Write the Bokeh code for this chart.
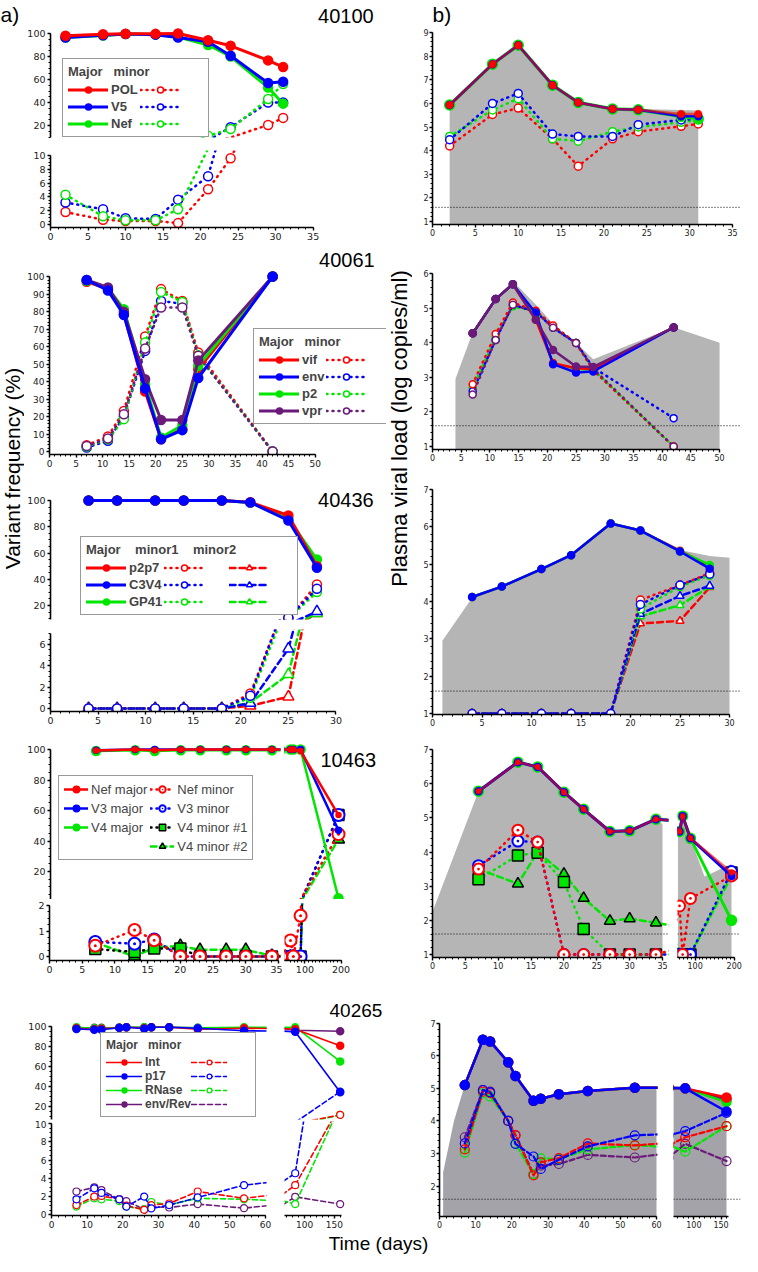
import numpy as np
from bokeh.plotting import figure
from bokeh.models import Range1d, FixedTicker, Span, Legend, LegendItem
from bokeh.layouts import row, column
from bokeh.core.properties import value
from bokeh.embed import file_html
from bokeh.resources import INLINE

# ---------------- DATA ----------------
# 40100
d40100 = [2, 7, 10, 14, 17, 21, 24, 29, 31]
pol_maj = [98, 99.4, 99.7, 99.7, 100, 94.2, 89.3, 76.6, 70.8]
v5_maj = [96.5, 98.5, 99.5, 99, 96.5, 92.8, 80.6, 56.9, 58]
nef_maj = [96.5, 98.2, 99.5, 99.2, 97, 90, 80, 53, 39]
pol_min = [1.8, 0.7, 0.5, 0.5, 0.2, 5.1, 9.6, 20.5, 26.6]
v5_min = [3.2, 2.2, 0.9, 0.8, 3.6, 7.0, 18.5, 40, 40]
nef_min = [4.3, 1.2, 0.6, 0.6, 2.2, 11, 17, 43, 56]
vl40100 = [5.95, 7.68, 8.48, 6.8, 6.06, 5.78, 5.76, 5.72, 5.7]
pol_vl_maj = [5.93, 7.66, 8.46, 6.77, 6.04, 5.76, 5.73, 5.55, 5.55]
v5_vl_maj = [5.93, 7.66, 8.46, 6.77, 6.04, 5.76, 5.73, 5.45, 5.45]
nef_vl_maj = [5.93, 7.66, 8.46, 6.77, 6.04, 5.76, 5.73, 5.45, 5.35]
pol_vl_min = [4.2, 5.53, 5.8, 4.5, 3.34, 4.5, 4.8, 5.03, 5.13]
v5_vl_min = [4.46, 6.0, 6.42, 4.7, 4.6, 4.6, 5.1, 5.3, 5.35]
nef_vl_min = [4.6, 5.72, 6.2, 4.5, 4.4, 4.8, 5.0, 5.2, 5.3]

# 40061
d40061 = [7, 11, 14, 18, 21, 25, 28, 42]
vif_maj = [97, 93, 78.5, 34.3, 7, 12.8, 47, 100]
env_maj = [98, 92, 78, 36, 7, 12.2, 42, 100]
p2_maj = [97.5, 93.3, 81.3, 38.5, 8, 15, 49, 100]
vpr_maj = [98, 93.7, 79.8, 41.3, 18, 18, 52, 100]
vif_min = [3.6, 8.6, 23.2, 65.7, 92.8, 86, 56.6, 0]
env_min = [2.3, 6.1, 20, 57.5, 86, 84.4, 54.7, 0]
p2_min = [2.9, 7, 18.5, 62.3, 91.2, 85.5, 55, 0]
vpr_min = [3.2, 7.4, 21.3, 58.9, 82.3, 82.3, 54.7, 0]
vl40061_days = [4, 7, 11, 14, 18, 21, 25, 28, 42, 50]
vl40061 = [2.95, 4.3, 5.28, 5.78, 5.1, 4.55, 4.0, 3.52, 4.45, 4.0]
vif_vl_maj = [4.27, 5.26, 5.69, 4.66, 3.41, 3.26, 3.24, 4.44]
env_vl_maj = [4.27, 5.26, 5.69, 4.85, 3.38, 3.14, 3.17, 4.44]
p2_vl_maj = [4.27, 5.26, 5.69, 4.75, 3.4, 3.25, 3.22, 4.44]
vpr_vl_maj = [4.27, 5.26, 5.69, 4.66, 3.79, 3.31, 3.3, 4.44]
vif_vl_min = [2.8, 4.25, 5.16, 4.92, 4.5, 3.99, 3.2, 1.0]
env_vl_min = [2.6, 4.08, 5.1, 4.89, 4.43, 3.99, 3.28, 1.82]
p2_vl_min = [2.7, 4.15, 5.05, 4.9, 4.45, 4.0, 3.22, 1.0]
vpr_vl_min = [2.5, 4.08, 5.1, 4.89, 4.43, 3.99, 3.25, 1.0]

# 40436
d40436 = [4, 7, 11, 14, 18, 21, 25, 28]
p2p7_maj = [100, 100, 100, 100, 100, 98.7, 88.6, 50]
c3v4_maj = [100, 100, 100, 100, 100, 98.5, 84.8, 48.7]
gp41_maj = [100, 100, 100, 100, 100, 98.5, 86, 55]
p2p7_min1 = [0, 0, 0, 0, 0, 1.4, 10.5, 36]
c3v4_min1 = [0, 0, 0, 0, 0, 1.2, 10.7, 32.7]
gp41_min1 = [0, 0, 0, 0, 0, 1.0, 10, 30.2]
p2p7_min2 = [0, 0, 0, 0, 0, 0.25, 1.1, 14]
c3v4_min2 = [0, 0, 0, 0, 0, 0.5, 5.6, 15.5]
gp41_min2 = [0, 0, 0, 0, 0, 0.55, 3.2, 14]
vl40436_days = [1, 4, 7, 11, 14, 18, 21, 25, 28, 30]
vl40436 = [2.95, 4.1, 4.42, 4.89, 5.26, 6.1, 5.92, 5.38, 5.22, 5.17]
p2p7_vl_maj = [4.12, 4.4, 4.87, 5.24, 6.09, 5.9, 5.36, 4.95]
c3v4_vl_maj = [4.12, 4.4, 4.87, 5.24, 6.09, 5.9, 5.34, 4.88]
gp41_vl_maj = [4.12, 4.4, 4.87, 5.24, 6.09, 5.9, 5.34, 4.98]
p2p7_vl_min1 = [1, 1, 1, 1, 1, 4.04, 4.44, 4.76]
c3v4_vl_min1 = [1, 1, 1, 1, 1, 3.92, 4.44, 4.73]
gp41_vl_min1 = [1, 1, 1, 1, 1, 3.8, 4.4, 4.7]
p2p7_vl_min2 = [1, 1, 1, 1, 1, 3.41, 3.48, 4.38]
c3v4_vl_min2 = [1, 1, 1, 1, 1, 3.67, 4.15, 4.42]
gp41_vl_min2 = [1, 1, 1, 1, 1, 3.6, 3.9, 4.4]

# 10463
d10463 = [7, 13, 16, 20, 23, 27, 30, 34, 60, 68, 88, 193]
nef_maj4 = [99.3, 100, 99.5, 100, 100, 100, 100, 100, 100, 100, 99, 57]
v3_maj4 = [99.5, 100, 100, 100, 100, 100, 100, 100, 100, 100, 100, 47]
v4_maj4 = [99, 99.5, 99, 99.5, 99.5, 99.5, 99.5, 99.5, 100, 100, 100, 2.5]
nef_min4 = [0.42, 1.04, 0.64, 0, 0, 0, 0, 0, 0.63, 0, 1.6, 44.5]
v3_min4 = [0.57, 0.5, 0.67, 0, 0, 0, 0, 0, 0, 0, 0, 57]
v4_min1_4 = [0.29, 0.18, 0.31, 0.31, 0, 0, 0, 0, 0, 0, 0, 57]
v4_min2_4 = [0.55, 0, 0.35, 0.42, 0.26, 0.26, 0.26, 0.03, 0, 0, 0, 41]
vl10463_days = [0, 7, 13, 16, 20, 23, 27, 30, 34, 35, 56, 60, 68, 88, 124, 193]
vl10463 = [2.25, 5.78, 6.63, 6.49, 5.75, 5.25, 4.6, 4.62, 4.96, 4.82, 4.6, 4.6, 5.05, 4.4, 3.28, 3.65]
nef_vl_maj4 = [5.78, 6.63, 6.49, 5.75, 5.25, 4.6, 4.62, 4.96, 4.6, 5.05, 4.4, 3.4]
v3_vl_maj4 = [5.78, 6.63, 6.49, 5.75, 5.25, 4.6, 4.62, 4.96, 4.6, 5.05, 4.4, 3.3]
v4_vl_maj4 = [5.78, 6.63, 6.49, 5.75, 5.25, 4.6, 4.62, 4.96, 4.6, 5.05, 4.4, 2.0]
nef_vl_min4 = [3.5, 4.64, 4.29, 1.0, 1.0, 1.0, 1.0, 1.0, 2.42, 1.0, 2.64, 3.3]
v3_vl_min4 = [3.6, 4.32, 4.29, 1.0, 1.0, 1.0, 1.0, 1.0, 1.0, 1.0, 1.0, 3.43]
v4_vl_min1_4 = [3.2, 3.9, 3.98, 3.12, 1.75, 1.0, 1.0, 1.0, 1.0, 1.0, 1.0, 3.4]
v4_vl_min2_4 = [3.5, 3.07, 4.0, 3.36, 2.65, 1.98, 2.05, 1.93, 1.0, 1.0, 1.0, 3.3]

# 40265
d40265 = [7, 12, 14, 19, 21, 26, 28, 33, 41, 54, 84, 160]
int_maj = [98, 97, 97.5, 98.5, 99, 98, 99, 99, 97, 98, 97, 80.5]
p17_maj = [97.3, 96.5, 96.5, 98.5, 99, 97.5, 99, 99, 98, 95.5, 94.4, 34.5]
rnase_maj = [99, 98, 98, 98.5, 99, 99, 99, 99, 98.5, 99, 99, 65]
envrev_maj = [98.5, 98.5, 98.5, 98.5, 99, 99, 99, 99, 98.5, 98.5, 96, 95]
int_min = [1.06, 2.0, 2.07, 1.7, 1.0, 0.55, 1.06, 1.24, 2.55, 1.8, 3.25, 12]
p17_min = [1.7, 2.9, 2.4, 1.7, 0.9, 2.0, 0.7, 1.06, 1.9, 3.25, 4.55, 35]
rnase_min = [0.9, 1.8, 1.7, 1.5, 0.9, 0.6, 1.4, 1.1, 1.8, 1.7, 1.17, 12]
envrev_min = [2.55, 3.0, 2.7, 1.7, 1.5, 0.6, 0.9, 0.8, 1.17, 0.73, 1.97, 1.17]
vl40265_days = [1, 4, 7, 12, 14, 19, 21, 26, 28, 33, 41, 54, 60, 62, 84, 160]
vl40265 = [2.42, 4.0, 5.1, 6.49, 6.44, 5.8, 5.38, 4.62, 4.68, 4.82, 4.92, 5.02, 5.02, 5.02, 5.0, 4.72]
int_vl_maj = [5.1, 6.49, 6.44, 5.8, 5.38, 4.62, 4.68, 4.82, 4.92, 5.02, 5.0, 4.72]
p17_vl_maj = [5.1, 6.49, 6.44, 5.8, 5.38, 4.62, 4.68, 4.82, 4.92, 5.02, 5.0, 4.29]
rnase_vl_maj = [5.1, 6.49, 6.44, 5.8, 5.38, 4.62, 4.68, 4.82, 4.92, 5.02, 5.0, 4.58]
envrev_vl_maj = [5.1, 6.49, 6.44, 5.8, 5.38, 4.62, 4.68, 4.82, 4.92, 5.02, 5.0, 4.66]
int_vl_min = [3.13, 4.9, 4.85, 4.0, 3.57, 2.33, 2.73, 2.86, 3.31, 3.25, 3.5, 3.84]
p17_vl_min = [3.31, 4.95, 4.88, 4.0, 3.3, 2.91, 2.53, 2.81, 3.22, 3.56, 3.69, 4.25]
rnase_vl_min = [3.03, 4.85, 4.75, 4.0, 3.3, 2.37, 2.85, 2.83, 3.13, 3.26, 3.06, 3.84]
envrev_vl_min = [3.5, 4.95, 4.9, 4.0, 3.56, 2.37, 2.63, 2.68, 2.96, 2.88, 3.3, 2.77]

detection_limit = 1.6

# ---------------- STYLE ----------------
RED = "#ff0000"
BLUE = "#0000ff"
GREEN = "#00e600"
PURPLE = "#6b1a7a"
GRAY = "#b5b5b5"
GRAY5 = "#a3a3a9"
TICKFONT = "DejaVu Sans"
BIGFONT = "Liberation Sans"
LEGFONT = "Liberation Sans"
DOT = "1 5"
DASH = "6 4"
INF = float("inf")
LX = 32  # left edge of the left column


def lin(m, px):
    pa, va, pb, vb = m
    return va + (px - pa) * (vb - va) / (pb - pa)


def mk(canvas, frame, xmap, ymap, xaxis=True, yaxis=True, fs="10px", tick_out=4, standoff=2):
    cx0, cy0, cx1, cy1 = canvas
    fx0, fy0, fx1, fy1 = frame
    p = figure(width=int(cx1 - cx0), height=int(cy1 - cy0),
               x_range=Range1d(lin(xmap, fx0), lin(xmap, fx1)),
               y_range=Range1d(lin(ymap, fy1), lin(ymap, fy0)),
               min_border_left=int(round(fx0 - cx0)), min_border_right=int(round(cx1 - fx1)),
               min_border_top=int(round(fy0 - cy0)), min_border_bottom=int(round(cy1 - fy1)),
               x_axis_location="below" if xaxis else None,
               y_axis_location="left" if yaxis else None,
               output_backend="svg", toolbar_location=None)
    p.outline_line_color = None
    p.background_fill_color = "white"
    p.border_fill_color = "white"
    for g in p.grid:
        g.visible = False
    for ax in p.axis:
        ax.axis_line_width = 1.6
        ax.axis_line_color = "black"
        ax.major_tick_line_width = 1.4
        ax.major_tick_out = tick_out
        ax.major_tick_in = 0
        ax.minor_tick_line_width = 1
        ax.minor_tick_out = 2
        ax.minor_tick_in = 0
        ax.major_label_text_font = TICKFONT
        ax.major_label_text_font_size = fs
        ax.major_label_text_color = "#222222"
        ax.major_label_standoff = standoff
    return p


def ticks(axes, major, minor):
    for ax in axes:
        ax.ticker = FixedTicker(ticks=list(major), minor_ticks=list(minor))


def ar(a, b, s):
    return [float(v) for v in np.arange(a, b + s / 2, s)]


def ser(p, x, y, color, lw=2.5, dash="solid", marker="circle", size=8, fill=None,
        mline=None, mlw=1.5, alpha=1.0, fill_alpha=1.0, lo=-INF, hi=INF):
    l = p.line(x, y, line_color=color, line_width=lw, line_dash=dash, line_alpha=alpha,
               line_cap="round", line_join="round")
    out = [l]
    if marker:
        mx = [a for a, b in zip(x, y) if lo <= b <= hi]
        my = [b for b in y if lo <= b <= hi]
        m = p.scatter(mx, my, marker=marker, size=size, fill_color=(fill or color), fill_alpha=fill_alpha,
                      line_color=(mline or color), line_width=mlw, line_alpha=alpha)
        out.append(m)
    return out


def txt(p, x, y, s, size="20px", angle=0.0, align="left", font=BIGFONT):
    p.text(x=[x], y=[y], text=[s], angle=angle, text_font=value(font), text_font_size=size,
           text_align=align, text_baseline="middle", text_color="black")


def legend(p, items, ncols, title, loc, fs="12px", bold=True, gw=40, lh=15, spacing=2):
    lg = Legend(items=[LegendItem(label=l, renderers=r) for l, r in items],
                location=loc, ncols=ncols, orientation="vertical")
    if title:
        lg.title = title
    lg.label_text_font = LEGFONT
    lg.label_text_font_style = "bold" if bold else "normal"
    lg.label_text_font_size = fs
    lg.title_text_font = LEGFONT
    lg.title_text_font_style = "bold"
    lg.title_text_font_size = fs
    lg.glyph_width = gw
    lg.glyph_height = lh
    lg.label_height = lh
    lg.label_standoff = 3
    lg.spacing = spacing
    lg.padding = 5
    lg.margin = 0
    lg.title_standoff = 3
    lg.border_line_color = "#333333"
    lg.border_line_width = 1.5
    lg.background_fill_color = "white"
    lg.background_fill_alpha = 1.0
    p.add_layout(lg)


def gray_area(p, days, vals, color, lo, hi):
    xs = [d for d in days if lo <= d <= hi]
    ys = [v for d, v in zip(days, vals) if lo <= d <= hi]
    p.varea(x=xs, y1=p.y_range.start, y2=ys, fill_color=color, fill_alpha=1.0)


def dl(p):
    p.add_layout(Span(location=detection_limit, dimension="width", line_color="black",
                      line_dash="1 2", line_width=1))


# ---------------- ROW 1 : 40100 ----------------
L1x = (55, 0, 320, 35)
L1t = mk((LX, 8, 394, 150), (55, 8, 394, 145), L1x, (41, 100, 133, 20), xaxis=False, fs="9.5px", tick_out=3)
L1b = mk((LX, 150, 394, 250), (55, 158, 394, 235), L1x, (163, 10, 232, 0), fs="9.5px", tick_out=3)
leg1 = {}
for p, lo, hi in ((L1t, 10, INF), (L1b, -INF, 10)):
    rmin = [ser(p, d40100, s, c, lw=2.5, dash=DOT, size=9, fill="white", lo=lo, hi=hi)
            for s, c in ((pol_min, RED), (v5_min, BLUE), (nef_min, GREEN))]
    rmaj = [ser(p, d40100, s, c, lw=3, size=9, lo=lo, hi=hi)
            for s, c in ((nef_maj, GREEN), (v5_maj, BLUE), (pol_maj, RED))]
    if p is L1t:
        leg1 = (rmaj, rmin)
ticks(L1t.yaxis, [20, 40, 60, 80, 100], ar(10, 100, 5))
L1t.yaxis.bounds = (L1t.y_range.start, 100)
ticks(L1b.yaxis, [0, 2, 4, 6, 8, 10], ar(0, 10, 0.5))
L1b.yaxis.bounds = (L1b.y_range.start, 10)
ticks(L1b.xaxis, ar(0, 35, 5), ar(0, 35, 1))
L1b.xaxis.bounds = (0, 35)
rmaj, rmin = leg1
legend(L1t, [("POL", rmaj[2]), ("V5", rmaj[1]), ("Nef", rmaj[0]),
             (" ", rmin[0]), (" ", rmin[1]), (" ", rmin[2])], 2, "Major   minor", (12, 0), fs="13px")
txt(L1t, lin(L1x, 325), lin((41, 100, 133, 20), 23), "40100")

R1x = (438, 0, 740, 35)
R1y = (40, 9, 229, 1)
R1 = mk((420, 8, 750, 250), (438, 8, 748, 232), R1x, R1y, fs="8px", tick_out=3, standoff=1)
gray_area(R1, d40100, vl40100, GRAY, 0, 100)
dl(R1)
ser(R1, d40100, pol_vl_min, RED, lw=2.5, dash=DOT, size=8, fill="white")
ser(R1, d40100, nef_vl_min, GREEN, lw=2.5, dash=DOT, size=8, fill="white")
ser(R1, d40100, v5_vl_min, BLUE, lw=2.5, dash=DOT, size=8, fill="white")
ser(R1, d40100, nef_vl_maj, GREEN, lw=3.5, size=10)
ser(R1, d40100, v5_vl_maj, BLUE, lw=2.5, size=7)
ser(R1, d40100, pol_vl_maj, RED, lw=2.5, size=7, alpha=0.6)
ticks(R1.yaxis, ar(1, 9, 1), ar(1, 9, 0.2))
R1.yaxis.bounds = (R1.y_range.start, 9)
ticks(R1.xaxis, ar(0, 35, 5), ar(0, 35, 1))
R1.xaxis.bounds = (0, 35)
txt(R1, 0.0, lin(R1y, 22), "b)", size="21px")

# ---------------- ROW 2 : 40061 ----------------
L2x = (54, 0, 322, 50)
L2y = (284, 100, 459, 0)
L2 = mk((LX, 250, 394, 480), (54, 252, 394, 462), L2x, L2y, fs="9px", tick_out=3)
r2min = [ser(L2, d40061, s, c, lw=2.5, dash=DOT, size=9, fill="white")
         for s, c in ((vif_min, RED), (env_min, BLUE), (p2_min, GREEN), (vpr_min, PURPLE))]
r2maj = [ser(L2, d40061, s, c, lw=3, size=9)
         for s, c in ((vif_maj, RED), (p2_maj, GREEN), (vpr_maj, PURPLE), (env_maj, BLUE))]
ticks(L2.yaxis, ar(0, 100, 10), ar(0, 100, 2))
L2.yaxis.bounds = (L2.y_range.start, 100)
ticks(L2.xaxis, ar(0, 50, 5), ar(0, 50, 1))
L2.xaxis.bounds = (0, 50)
legend(L2, [("vif", r2maj[0]), ("env", r2maj[3]), ("p2", r2maj[1]), ("vpr", r2maj[2]),
            (" ", r2min[0]), (" ", r2min[1]), (" ", r2min[2]), (" ", r2min[3])],
       2, "Major   minor", (204, 30), fs="13px")
txt(L2, lin(L2x, 326), lin(L2y, 267), "40061")

R2x = (439, 0, 727, 50)
R2 = mk((420, 250, 750, 480), (439, 252, 748, 457), R2x, (281, 6, 454, 1), fs="8px", tick_out=3, standoff=1)
gray_area(R2, vl40061_days, vl40061, GRAY, 0, 100)
dl(R2)
for s, c in ((p2_vl_min, GREEN), (env_vl_min, BLUE), (vif_vl_min, RED), (vpr_vl_min, PURPLE)):
    ser(R2, d40061, s, c, lw=2.5, dash=DOT, size=7, fill="white")
for s, c in ((p2_vl_maj, GREEN), (vif_vl_maj, RED), (env_vl_maj, BLUE), (vpr_vl_maj, PURPLE)):
    ser(R2, d40061, s, c, lw=2.5, size=7)
ticks(R2.yaxis, ar(1, 6, 1), ar(1, 6, 0.2))
R2.yaxis.bounds = (R2.y_range.start, 6)
ticks(R2.xaxis, ar(0, 50, 5), ar(0, 50, 1))
R2.xaxis.bounds = (0, 50)

# ---------------- ROW 3 : 40436 ----------------
L3x = (55, 0, 343, 30)
L3ty = (508, 100, 613, 20)
L3t = mk((LX, 480, 394, 630), (55, 482, 394, 627), L3x, L3ty, xaxis=False, fs="9.5px", tick_out=3)
L3b = mk((LX, 630, 394, 737), (55, 637, 394, 719), L3x, (652, 6, 716, 0), fs="9.5px", tick_out=3)
leg3 = None
for p, lo, hi in ((L3t, 9.5, INF), (L3b, -INF, 7.2)):
    m2 = [ser(p, d40436, s, c, lw=2.5, dash=DASH, marker="triangle", size=11, fill="white", lo=lo, hi=hi)
          for s, c in ((p2p7_min2, RED), (gp41_min2, GREEN), (c3v4_min2, BLUE))]
    m1 = [ser(p, d40436, s, c, lw=2.5, dash=DOT, size=9, fill="white", lo=lo, hi=hi)
          for s, c in ((gp41_min1, GREEN), (p2p7_min1, RED), (c3v4_min1, BLUE))]
    mj = [ser(p, d40436, s, c, lw=3, size=9, lo=lo, hi=hi)
          for s, c in ((gp41_maj, GREEN), (p2p7_maj, RED), (c3v4_maj, BLUE))]
    if p is L3t:
        leg3 = (mj, m1, m2)
ticks(L3t.yaxis, [20, 40, 60, 80, 100], ar(10, 100, 5))
L3t.yaxis.bounds = (L3t.y_range.start, 100)
ticks(L3b.yaxis, [0, 2, 4, 6], ar(0, 7, 0.5))
L3b.yaxis.bounds = (L3b.y_range.start, 7)
ticks(L3b.xaxis, ar(0, 30, 5), ar(0, 30, 1))
L3b.xaxis.bounds = (0, 30)
mj, m1, m2 = leg3
legend(L3t, [("p2p7", mj[1]), ("C3V4", mj[2]), ("GP41", mj[0]),
             (" ", m1[1]), (" ", m1[2]), (" ", m1[0]),
             (" ", m2[0]), (" ", m2[2]), (" ", m2[1])], 3, "Major    minor1    minor2", (30, 4), fs="13px")
txt(L3t, lin(L3x, 325), lin(L3ty, 507), "40436")

R3x = (440, 0, 737, 30)
R3 = mk((420, 480, 750, 737), (440, 482, 748, 722), R3x, (497, 7, 721, 1), fs="8px", tick_out=3, standoff=1)
gray_area(R3, vl40436_days, vl40436, GRAY, 0, 100)
dl(R3)
for s, c in ((p2p7_vl_min2, RED), (gp41_vl_min2, GREEN), (c3v4_vl_min2, BLUE)):
    ser(R3, d40436, s, c, lw=2.5, dash=DASH, marker="triangle", size=8, fill="white")
for s, c in ((gp41_vl_min1, GREEN), (p2p7_vl_min1, RED), (c3v4_vl_min1, BLUE)):
    ser(R3, d40436, s, c, lw=2.5, dash=DOT, size=8, fill="white")
for s, c in ((p2p7_vl_maj, RED), (gp41_vl_maj, GREEN), (c3v4_vl_maj, BLUE)):
    ser(R3, d40436, s, c, lw=2.5, size=7)
ticks(R3.yaxis, ar(1, 7, 1), ar(1, 7, 0.2))
R3.yaxis.bounds = (R3.y_range.start, 7)
ticks(R3.xaxis, ar(0, 30, 5), ar(0, 30, 1))
R3.xaxis.bounds = (0, 30)

# ---------------- ROW 4 : 10463 ----------------
L4x1 = (57, 0, 286, 35)
L4x2 = (298, 60, 346, 193)
L4ty = (757, 100, 879, 20)
L4by = (913, 2, 964, 0)
L4tl = mk((LX, 737, 290, 907), (57, 742, 288, 907), L4x1, L4ty, xaxis=False, fs="9.5px", tick_out=3)
L4tr = mk((290, 737, 394, 907), (292, 742, 394, 907), L4x2, L4ty, xaxis=False, yaxis=False)
L4bl = mk((LX, 907, 290, 988), (57, 911, 288, 968), L4x1, L4by, fs="9.5px", tick_out=3)
L4br = mk((290, 907, 394, 988), (292, 911, 394, 968), L4x2, L4by, yaxis=False, fs="9.5px", tick_out=3)
leg4 = None
for p, lo, hi in ((L4tl, 2.2, INF), (L4tr, 2.2, INF), (L4bl, -INF, 2.1), (L4br, -INF, 2.1)):
    a = ser(p, d10463, v4_min2_4, GREEN, lw=2.5, dash=DASH, marker="triangle", size=12, mline="black", lo=lo, hi=hi)
    b = ser(p, d10463, v4_min1_4, "black", lw=2.5, dash=DOT, marker="square", size=11, fill=GREEN, mline="black", lo=lo, hi=hi)
    c = ser(p, d10463, v3_min4, BLUE, lw=2.5, dash=DOT, marker="circle_dot", size=12, fill="white", mlw=2, lo=lo, hi=hi)
    d = ser(p, d10463, nef_min4, RED, lw=2.5, dash=DOT, marker="circle_dot", size=12, fill="white", mlw=2, lo=lo, hi=hi)
    e = ser(p, d10463, v4_maj4, GREEN, lw=2.5, size=9, lo=lo, hi=hi)
    f = ser(p, d10463, v3_maj4, BLUE, lw=2.5, size=6, lo=lo, hi=hi)
    g = ser(p, d10463, nef_maj4, RED, lw=2.5, size=5, lo=lo, hi=hi)
    if p is L4tl:
        leg4 = (g, f, e, d, c, b, a)
ticks(L4tl.yaxis, [20, 40, 60, 80, 100], ar(0, 100, 5))
L4tl.yaxis.bounds = (L4tl.y_range.start, 100)
ticks(L4bl.yaxis, [0, 1, 2], ar(0, 2, 0.25))
L4bl.yaxis.bounds = (L4bl.y_range.start, 2)
ticks(L4bl.xaxis, ar(0, 35, 5), ar(0, 35, 1))
L4bl.xaxis.bounds = (0, 35)
ticks(L4br.xaxis, [100, 200], ar(60, 200, 10))
L4br.xaxis.bounds = (L4br.x_range.start, 200)
blank4 = L4tl.line(x=[], y=[], line_alpha=0)
g, f, e, d, c, b, a = leg4
legend(L4tl, [("Nef major", g), ("V3 major", f), ("V4 major", e), (" ", [blank4]),
              ("Nef minor", d), ("V3 minor", c), ("V4 minor #1", b), ("V4 minor #2", a)],
       2, None, (8, 39), fs="13px", bold=False, gw=24, lh=16, spacing=3)
txt(L4tr, lin(L4x2, 328), lin(L4ty, 767), "10463")

R4y = (757, 7, 962, 1)
R4x1 = (440, 0, 670, 35)
R4x2 = (687, 60, 739, 193)
R4a = mk((420, 737, 680, 988), (440, 742, 676, 965), R4x1, R4y, fs="8px", tick_out=3, standoff=1)
R4b = mk((680, 737, 750, 988), (685, 742, 748, 965), R4x2, R4y, yaxis=False, fs="8px", tick_out=3, standoff=1)
gray_area(R4a, vl10463_days, vl10463, GRAY, 0, 35)
gray_area(R4b, vl10463_days, vl10463, GRAY, 50, 300)
for p in (R4a, R4b):
    dl(p)
    ser(p, d10463, v4_vl_min2_4, GREEN, lw=2.5, dash=DASH, marker="triangle", size=11, mline="black")
    ser(p, d10463, v4_vl_min1_4, GREEN, lw=2.5, dash=DOT, marker="square", size=11, fill=GREEN, mline="black")
    ser(p, d10463, v3_vl_min4, BLUE, lw=2.5, dash=DOT, marker="circle_dot", size=11, fill="white", mlw=2)
    ser(p, d10463, nef_vl_min4, RED, lw=2.5, dash=DOT, marker="circle_dot", size=11, fill="white", mlw=2)
    ser(p, d10463, v4_vl_maj4, GREEN, lw=3, size=10)
    ser(p, d10463, v3_vl_maj4, BLUE, lw=3, size=7)
    ser(p, d10463, nef_vl_maj4, RED, lw=2.5, size=5, alpha=0.6)
ticks(R4a.yaxis, ar(1, 7, 1), ar(1, 7, 0.2))
R4a.yaxis.bounds = (R4a.y_range.start, 7)
ticks(R4a.xaxis, ar(0, 35, 5), ar(0, 35, 1))
R4a.xaxis.bounds = (0, 35)
ticks(R4b.xaxis, [100, 200], ar(60, 200, 10))
R4b.xaxis.bounds = (R4b.x_range.start, 200)

# ---------------- ROW 5 : 40265 ----------------
L5x1 = (59, 0, 273, 60)
L5x2 = (302.7, 84, 347.7, 160)
L5ty = (1033.7, 100, 1114.3, 20)
L5by = (1131, 10, 1222.3, 0)
L5tl = mk((LX, 988, 290, 1128), (59, 992, 274, 1127), L5x1, L5ty, xaxis=False, fs="9.5px", tick_out=3)
L5tr = mk((290, 988, 394, 1128), (292, 992, 394, 1127), L5x2, L5ty, xaxis=False, yaxis=False)
L5bl = mk((LX, 1128, 290, 1238), (59, 1129, 274, 1223), L5x1, L5by, fs="9px", tick_out=3)
L5br = mk((290, 1128, 394, 1238), (292, 1129, 394, 1223), L5x2, L5by, yaxis=False, fs="9px", tick_out=3)
leg5 = None
for p, lo, hi in ((L5tl, 9, INF), (L5tr, 9, INF), (L5bl, -INF, 10.3), (L5br, -INF, 10.3)):
    mn = [ser(p, d40265, s, c, lw=1.6, dash="5 3", size=7, fill="white", mlw=1.2, lo=lo, hi=hi)
          for s, c in ((envrev_min, PURPLE), (rnase_min, GREEN), (int_min, RED), (p17_min, BLUE))]
    mj = [ser(p, d40265, s, c, lw=1.6, size=7, lo=lo, hi=hi)
          for s, c in ((envrev_maj, PURPLE), (rnase_maj, GREEN), (int_maj, RED), (p17_maj, BLUE))]
    if p is L5tl:
        leg5 = (mj, mn)
ticks(L5tl.yaxis, [20, 40, 60, 80, 100], ar(10, 100, 5))
L5tl.yaxis.bounds = (L5tl.y_range.start, 100)
ticks(L5bl.yaxis, [0, 2, 4, 6, 8, 10], ar(0, 10, 0.5))
L5bl.yaxis.bounds = (L5bl.y_range.start, 10)
ticks(L5bl.xaxis, ar(0, 60, 10), ar(0, 60, 2))
L5bl.xaxis.bounds = (0, 60)
ticks(L5br.xaxis, [100, 150], ar(70, 160, 10))
L5br.xaxis.bounds = (L5br.x_range.start, 163)
mj, mn = leg5
legend(L5tl, [("Int", mj[2]), ("p17", mj[3]), ("RNase", mj[1]), ("env/Rev", mj[0]),
              (" ", mn[2]), (" ", mn[3]), (" ", mn[1]), (" ", mn[0])],
       2, "Major   minor", (49, 2), fs="12px", gw=36, lh=12, spacing=0)
txt(L5tr, lin(L5x2, 337), lin(L5ty, 1018), "40265", size="19px")

R5y = (1031, 7, 1228.3, 1)
R5x1 = (447, 0, 664, 60)
R5x2 = (692.7, 84, 734, 160)
R5a = mk((420, 988, 681, 1238), (447, 992, 665, 1226), R5x1, R5y, fs="8px", tick_out=3, standoff=1)
R5b = mk((681, 988, 750, 1238), (681, 992, 748, 1226), R5x2, R5y, yaxis=False, fs="8px", tick_out=3, standoff=1)
gray_area(R5a, vl40265_days, vl40265, GRAY5, 0, 60)
gray_area(R5b, vl40265_days, vl40265, GRAY5, 61, 300)
for p in (R5a, R5b):
    dl(p)
    for s, c in ((envrev_vl_min, PURPLE), (rnase_vl_min, GREEN), (int_vl_min, RED), (p17_vl_min, BLUE)):
        ser(p, d40265, s, c, lw=2.2, dash="5 3", size=9, fill="white", fill_alpha=0.0, mlw=1.2)
    for s, c in ((envrev_vl_maj, PURPLE), (rnase_vl_maj, GREEN), (int_vl_maj, RED), (p17_vl_maj, BLUE)):
        ser(p, d40265, s, c, lw=2.5, size=9)
ticks(R5a.yaxis, ar(1, 7, 1), ar(1, 7, 0.2))
R5a.yaxis.bounds = (R5a.y_range.start, 7)
ticks(R5a.xaxis, ar(0, 60, 10), ar(0, 60, 2))
R5a.xaxis.bounds = (0, 60)
ticks(R5b.xaxis, [100, 150], ar(70, 160, 10))
R5b.xaxis.bounds = (R5b.x_range.start, 163)

# ---------------- LABEL STRIPS ----------------
def strip(w, h):
    p = figure(width=w, height=h, x_range=Range1d(0, w), y_range=Range1d(0, h),
               x_axis_location=None, y_axis_location=None, output_backend="svg",
               toolbar_location=None, min_border=0)
    p.min_border_left = p.min_border_right = p.min_border_top = p.min_border_bottom = 0
    p.outline_line_color = None
    for g in p.grid:
        g.visible = False
    return p

H = 1230  # height of the strips (y 8..1238)
SA = strip(LX - 8, H)
txt(SA, 0, H - 14, "a)", size="21px")
txt(SA, 12, H - (476 - 8), "Variant frequency (%)", size="21px", angle=np.pi / 2, align="center")
SB = strip(26, H)
txt(SB, 13, H - (436 - 8), "Plasma viral load (log copies/ml)", size="22px", angle=np.pi / 2, align="center")
ST = strip(742, 26)
txt(ST, 378, 13, "Time (days)", size="19px", align="center")

left_col = column(column(L1t, L1b), L2, column(L3t, L3b),
                  column(row(L4tl, L4tr), row(L4bl, L4br)),
                  column(row(L5tl, L5tr), row(L5bl, L5br)))
right_col = column(R1, R2, R3, row(R4a, R4b), row(R5a, R5b))
page = column(row(SA, left_col, SB, right_col), ST)

open("out.html", "w").write(file_html(page, INLINE))
